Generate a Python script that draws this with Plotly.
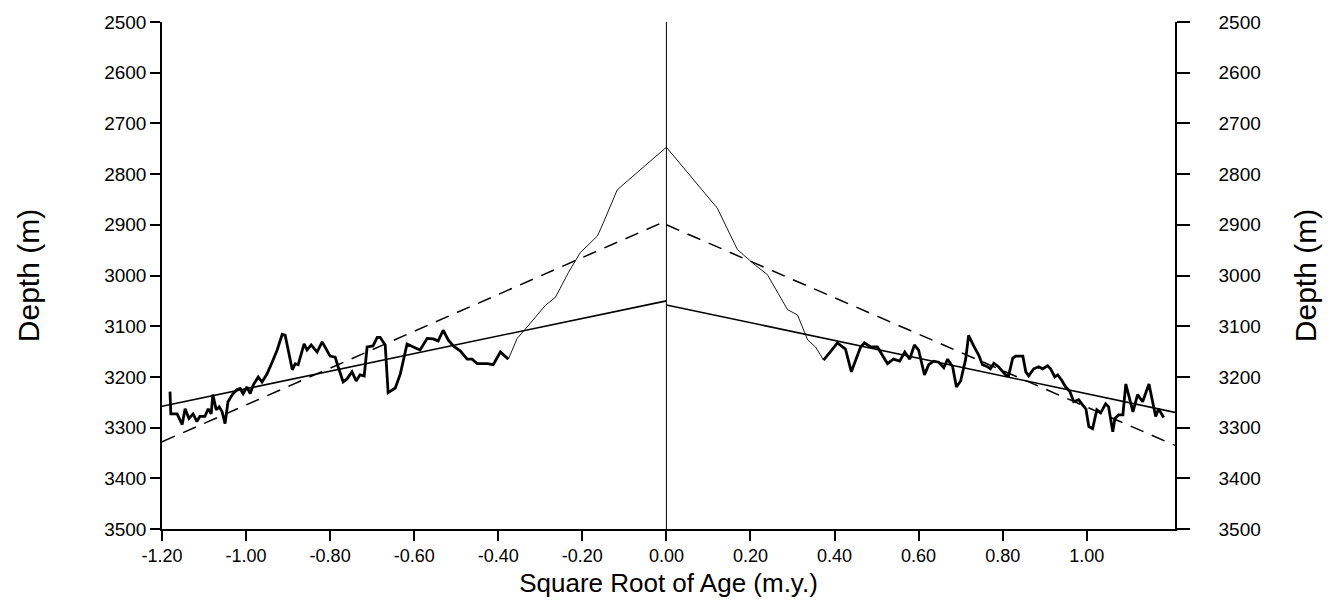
import plotly.graph_objects as go

# ---------------- data ----------------
# Thick observed profile, west flank (sqrt age, depth m)
WEST_X = [-1.181, -1.179, -1.164, -1.152, -1.145, -1.136, -1.126, -1.117, -1.110, -1.098,
          -1.090, -1.083, -1.079, -1.071, -1.064, -1.057, -1.050, -1.043, -1.031, -1.021,
          -1.014, -1.007, -0.998, -0.990, -0.983, -0.971, -0.962, -0.950, -0.938, -0.926,
          -0.914, -0.907, -0.890, -0.883, -0.876, -0.862, -0.855, -0.845, -0.831, -0.819,
          -0.800, -0.788, -0.781, -0.769, -0.760, -0.748, -0.738, -0.729, -0.719, -0.712,
          -0.698, -0.688, -0.681, -0.669, -0.662, -0.645, -0.633, -0.617, -0.602, -0.586,
          -0.569, -0.555, -0.543, -0.531, -0.519, -0.507, -0.490, -0.474, -0.462, -0.450,
          -0.438, -0.426, -0.412, -0.395, -0.376]
WEST_DEPTH = [3229, 3273, 3273, 3294, 3263, 3282, 3273, 3288, 3278, 3278,
              3263, 3273, 3235, 3265, 3259, 3269, 3292, 3249, 3233, 3225,
              3223, 3233, 3220, 3233, 3216, 3200, 3210, 3194, 3171, 3147,
              3116, 3118, 3186, 3174, 3176, 3135, 3147, 3137, 3151, 3131,
              3159, 3161, 3180, 3210, 3204, 3190, 3208, 3196, 3198, 3141,
              3139, 3122, 3122, 3137, 3231, 3222, 3194, 3135, 3141, 3147,
              3124, 3125, 3129, 3108, 3127, 3139, 3149, 3165, 3165, 3174,
              3174, 3174, 3176, 3151, 3165]

# Thick observed profile, east flank
EAST_X = [0.374, 0.407, 0.426, 0.440, 0.462, 0.471, 0.486, 0.502, 0.526, 0.540,
          0.555, 0.567, 0.579, 0.590, 0.600, 0.614, 0.624, 0.636, 0.648, 0.660,
          0.669, 0.681, 0.690, 0.700, 0.712, 0.719, 0.731, 0.743, 0.752, 0.764,
          0.771, 0.779, 0.790, 0.807, 0.814, 0.824, 0.831, 0.848, 0.855, 0.862,
          0.874, 0.886, 0.895, 0.907, 0.914, 0.924, 0.931, 0.940, 0.950, 0.960,
          0.969, 0.981, 0.990, 0.998, 1.005, 1.014, 1.024, 1.033, 1.045, 1.052,
          1.062, 1.067, 1.076, 1.086, 1.093, 1.110, 1.121, 1.133, 1.148, 1.164,
          1.171, 1.183]
EAST_DEPTH = [3167, 3133, 3145, 3190, 3141, 3133, 3141, 3141, 3174, 3165,
              3169, 3151, 3165, 3137, 3147, 3196, 3176, 3169, 3171, 3182,
              3165, 3180, 3220, 3208, 3165, 3118, 3139, 3157, 3176, 3180,
              3184, 3173, 3180, 3196, 3198, 3163, 3159, 3159, 3190, 3198,
              3184, 3180, 3184, 3178, 3184, 3200, 3196, 3206, 3220, 3229,
              3249, 3245, 3255, 3263, 3298, 3302, 3265, 3271, 3253, 3259,
              3308, 3282, 3275, 3275, 3214, 3269, 3235, 3249, 3214, 3278,
              3263, 3280]

# Thin axial-high profile near the ridge axis
AXIAL_X = [-0.376, -0.355, -0.336, -0.288, -0.264, -0.233, -0.205, -0.164, -0.150, -0.117,
           0.000, 0.081, 0.121, 0.169, 0.212, 0.240, 0.288, 0.312, 0.336, 0.355, 0.374]
AXIAL_DEPTH = [3165, 3124, 3106, 3059, 3043, 2994, 2955, 2922, 2896, 2831,
               2747, 2827, 2867, 2949, 2980, 2998, 3067, 3078, 3127, 3141, 3167]

# Straight-line fits (solid) and reference model (dashed)
FIT_WEST_X = [-1.20, 0.00]
FIT_WEST_DEPTH = [3258, 3050]
FIT_EAST_X = [0.00, 1.21]
FIT_EAST_DEPTH = [3058, 3270]

MODEL_WEST_X = [-1.20, 0.00]
MODEL_WEST_DEPTH = [3328, 2892]
MODEL_EAST_X = [0.00, 1.21]
MODEL_EAST_DEPTH = [2900, 3335]

RIDGE_AXIS_X = 0.0

X_RANGE = [-1.20, 1.21]
Y_RANGE = [3500, 2500]
X_TICK_VALUES = [-1.2, -1.0, -0.8, -0.6, -0.4, -0.2, 0.0, 0.2, 0.4, 0.6, 0.8, 1.0]
X_TICK_LABELS = ["-1.20", "-1.00", "-0.80", "-0.60", "-0.40", "-0.20",
                 "0.00", "0.20", "0.40", "0.60", "0.80", "1.00"]
Y_TICK_VALUES = [2500, 2600, 2700, 2800, 2900, 3000, 3100, 3200, 3300, 3400, 3500]
Y_TICK_LABELS = [str(v) for v in Y_TICK_VALUES]

X_TITLE = "Square Root of Age (m.y.)"
Y_TITLE = "Depth (m)"

# ---------------- figure ----------------
FONT = "Liberation Sans, Arial, Helvetica, sans-serif"
INK = "black"

fig = go.Figure()

def line(x, y, width, dash="solid", yaxis="y"):
    fig.add_trace(go.Scatter(x=x, y=y, mode="lines", yaxis=yaxis,
                             line=dict(color=INK, width=width, dash=dash),
                             showlegend=False, hoverinfo="skip"))

line(MODEL_WEST_X, MODEL_WEST_DEPTH, 1.5, "14px,9px")
line(MODEL_EAST_X, MODEL_EAST_DEPTH, 1.5, "14px,9px")
line(FIT_WEST_X, FIT_WEST_DEPTH, 1.6)
line(FIT_EAST_X, FIT_EAST_DEPTH, 1.6)
line(AXIAL_X, AXIAL_DEPTH, 0.9)
line(WEST_X, WEST_DEPTH, 2.8)
line(EAST_X, EAST_DEPTH, 2.8)
# invisible trace to activate the right-hand depth axis
fig.add_trace(go.Scatter(x=[X_RANGE[0]], y=[Y_RANGE[0]], yaxis="y2", mode="markers",
                         marker=dict(opacity=0), showlegend=False, hoverinfo="skip"))

fig.add_shape(type="line", xref="x", yref="paper", x0=RIDGE_AXIS_X, x1=RIDGE_AXIS_X,
              y0=0, y1=1, line=dict(color=INK, width=1))

axis_common = dict(showgrid=False, zeroline=False, showline=True, linecolor=INK,
                   linewidth=1.5, ticks="outside", tickcolor=INK, tickwidth=1.5)

fig.update_layout(
    width=1330, height=608,
    margin=dict(l=162, r=155, t=18, b=79),
    paper_bgcolor="white", plot_bgcolor="white",
    font=dict(family=FONT, color=INK),
    xaxis=dict(range=X_RANGE, tickmode="array", tickvals=X_TICK_VALUES,
               ticktext=X_TICK_LABELS, ticklen=10,
               tickfont=dict(family=FONT, size=18, color=INK),
               title=dict(text=X_TITLE, font=dict(family=FONT, size=26, color=INK), standoff=8),
               **axis_common),
    yaxis=dict(range=Y_RANGE, tickmode="array", tickvals=Y_TICK_VALUES,
               ticktext=Y_TICK_LABELS, ticklen=10,
               tickfont=dict(family=FONT, size=19, color=INK),
               title=dict(text=Y_TITLE, font=dict(family=FONT, size=30, color=INK), standoff=56),
               **axis_common),
    yaxis2=dict(range=Y_RANGE, overlaying="y", side="right", anchor="x",
                tickmode="array", tickvals=Y_TICK_VALUES, ticktext=Y_TICK_LABELS,
                ticklen=13, ticklabelstandoff=25,
                tickfont=dict(family=FONT, size=19, color=INK),
                title=dict(text=Y_TITLE, font=dict(family=FONT, size=30, color=INK), standoff=35),
                **axis_common),
)

fig.write_html("out.html")
